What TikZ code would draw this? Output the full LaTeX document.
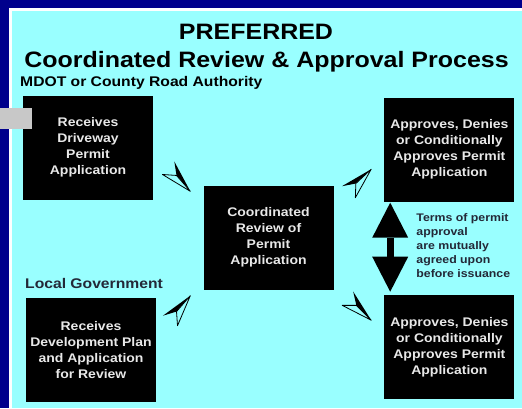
\documentclass[tikz,border=0pt]{standalone}
\usepackage{fontspec}
\setmainfont{Liberation Sans}[FakeStretch=1.12]
\usetikzlibrary{arrows.meta, positioning, calc}
\definecolor{navyframe}{RGB}{0,0,140}
\definecolor{skycyan}{RGB}{153,255,255}
\definecolor{tabgrey}{RGB}{200,200,200}
\definecolor{labelink}{RGB}{35,40,55}
\definecolor{boxink}{RGB}{232,232,232}
\tikzset{
  paperarrow/.pic={
    \fill[black] (0,0) -- (-33,7.5) -- (-21,0) -- cycle;
    \filldraw[fill=skycyan,draw=black,line width=0.8pt,line join=round] (0,0) -- (-21,0) -- (-31,-10) -- cycle;
  }
}
\begin{document}
\begin{tikzpicture}[x=1pt, y=1pt, every node/.style={font=\bfseries},
  procbox/.style={fill=black, text=boxink, minimum width=130pt, minimum height=104pt, align=center, font=\bfseries\fontsize{12.5}{16}\selectfont},
  bigtitle/.style={font=\bfseries\fontsize{22.3}{26}\selectfont, anchor=base},
  partylabel/.style={font=\bfseries\fontsize{14}{16}\selectfont, anchor=base west, inner sep=0pt}]
% Frame
\useasboundingbox (0,0) rectangle (522,408);
\fill[navyframe] (0,0) rectangle (522,408);
\fill[white] (9,0) rectangle (522,400);
\fill[skycyan] (12,0) rectangle (522,397);
% Titles
\node[bigtitle] (pref) at (256,368) {PREFERRED};
\node[bigtitle] (title) at (266.5,341) {Coordinated Review \& Approval Process};
\node[partylabel] (mdot) at (20,321) {MDOT or County Road Authority};
\node[partylabel, text=labelink] (localgov) at (25,120) {Local Government};
% Boxes
\node[procbox] (recv) at (88,260.5) {Receives\\Driveway\\Permit\\Application};
\node[procbox, right=231pt of recv, yshift=-2pt] (approveA) {Approves, Denies\\or Conditionally\\Approves Permit\\Application};
\node[procbox] (review) at (268.5,170.5) {Coordinated\\Review of\\Permit\\Application};
\node[procbox, below=98pt of recv, xshift=3pt] (devplan) {Receives\\Development Plan\\and Application\\for Review};
\node[procbox, below=93pt of approveA] (approveB) {Approves, Denies\\or Conditionally\\Approves Permit\\Application};
\fill[tabgrey] (0,279) rectangle (32,300);
% Arrows
\pic[rotate=-49] at ([shift={(-13,-6)}]review.north west) {paperarrow};
\pic[rotate=49] at ([shift={(-13,-6)}]review.south west) {paperarrow};
\pic[rotate=43] at ([shift={(-13,32.5)}]approveA.south west) {paperarrow};
\pic[rotate=-45] at ([shift={(-13,-25.5)}]approveB.north west) {paperarrow};
\draw[line width=7pt, {Triangle[length=35pt,width=36pt,line width=0pt]}-{Triangle[length=35pt,width=36pt,line width=0pt]}, shorten <=1pt, shorten >=3pt] ([xshift=6pt]approveA.south west) -- ([xshift=6pt]approveB.north west);
\coordinate (gapmid) at ($(approveA.south west)!0.5!(approveB.north west)$);
\node[anchor=west, inner sep=0pt, align=left, text=labelink, font=\bfseries\fontsize{11}{14}\selectfont] (terms) at ([xshift=32pt,yshift=3pt]gapmid) {Terms of permit\\approval\\are mutually\\agreed upon\\before issuance};
\end{tikzpicture}
\end{document}
